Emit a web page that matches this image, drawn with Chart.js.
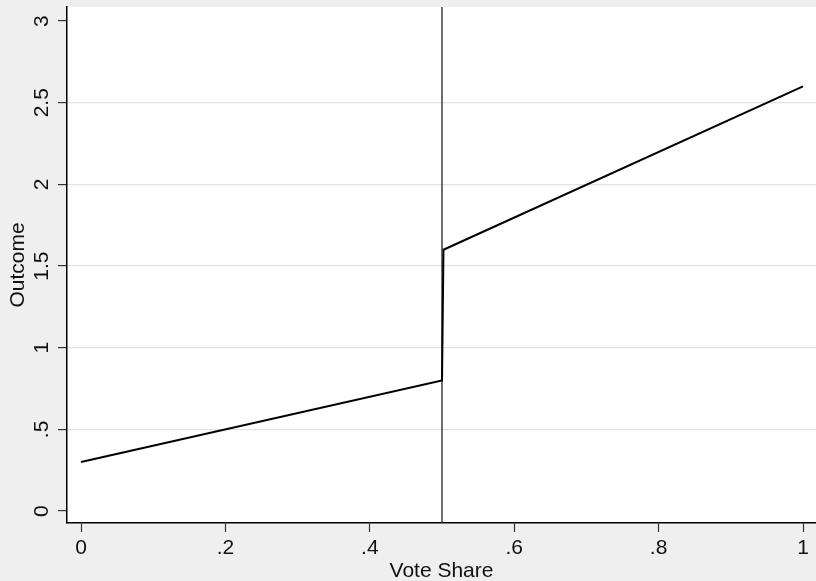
<!DOCTYPE html>
<html>
<head>
<meta charset="utf-8">
<script src="https://cdn.jsdelivr.net/npm/chart.js@4/dist/chart.umd.min.js"></script>
<style>
  body { margin: 0; background: #efefef; }
  #chart-container { width: 816px; height: 581px; }
</style>
</head>
<body>
<div id="chart-container"><canvas id="grafica" width="816" height="581"></canvas></div>
<script>
// valores
const voteShare = [0, 0.5, 0.502, 1];
const outcome = [0.3, 0.8, 1.6, 2.6];
const cutoff = 0.5;

const xTicks = [0, 0.2, 0.4, 0.6, 0.8, 1];
const xTickLabels = ["0", ".2", ".4", ".6", ".8", "1"];
const yTicks = [0, 0.5, 1, 1.5, 2, 2.5, 3];
const yTickLabels = ["0", ".5", "1", "1.5", "2", "2.5", "3"];

const xMin = -0.0194, xMax = 1.018;
const yMin = -0.073, yMax = 3.086;

const fuente = { family: "Liberation Sans, Arial, Helvetica, sans-serif", size: 21 };

const fondoBlanco = {
    id: "fondoBlanco",
    beforeDraw(chart) {
        const { ctx, chartArea } = chart;
        ctx.save();
        ctx.fillStyle = "#ffffff";
        ctx.fillRect(chartArea.left, chartArea.top, chartArea.right - chartArea.left, chartArea.bottom - chartArea.top);
        ctx.restore();
    }
};

const ctx = document.getElementById("grafica").getContext("2d");
new Chart(ctx, {
    type: "scatter",
    data: {
        datasets: [
            {
                label: "Outcome",
                data: voteShare.map((v, i) => ({ x: v, y: outcome[i] })),
                showLine: true,
                borderColor: "#000000",
                borderWidth: 2,
                pointRadius: 0,
                tension: 0,
                order: 0
            },
            {
                label: "cutoff",
                data: [{ x: cutoff, y: yMin }, { x: cutoff, y: yMax }],
                showLine: true,
                borderColor: "#222222",
                borderWidth: 1.3,
                pointRadius: 0,
                order: 1
            }
        ]
    },
    options: {
        responsive: false,
        animation: false,
        layout: { padding: { top: 7, right: 0, left: 0, bottom: 0 } },
        plugins: { legend: { display: false }, tooltip: { enabled: false } },
        scales: {
            x: {
                type: "linear",
                min: xMin,
                max: xMax,
                afterBuildTicks: s => { s.ticks = xTicks.map(v => ({ value: v })); },
                afterFit: s => { s.height = 58; s.paddingLeft = 0; s.paddingRight = 0; },
                grid: {
                    display: true,
                    drawOnChartArea: false,
                    tickLength: 9,
                    tickColor: "#333333",
                    tickWidth: 1.2
                },
                border: { display: true, color: "#000000", width: 1.5 },
                ticks: {
                    color: "#111111",
                    font: fuente,
                    padding: 4,
                    maxRotation: 0,
                    callback: (v) => xTickLabels[xTicks.indexOf(v)]
                },
                title: {
                    display: true,
                    text: "Vote Share",
                    color: "#111111",
                    font: fuente,
                    padding: { top: 0, bottom: -3 }
                }
            },
            y: {
                type: "linear",
                min: yMin,
                max: yMax,
                afterBuildTicks: s => { s.ticks = yTicks.map(v => ({ value: v })); },
                afterFit: s => { s.width = 67; s.paddingTop = 0; s.paddingBottom = 0; },
                grid: {
                    color: (c) => (c.tick && (c.tick.value === 0 || c.tick.value === 3)) ? "rgba(0,0,0,0)" : "#e3e3e3",
                    lineWidth: 1.2,
                    tickLength: 9,
                    tickColor: "#333333",
                    tickWidth: 1.2
                },
                border: { display: true, color: "#000000", width: 1.5 },
                ticks: {
                    color: "#111111",
                    font: fuente,
                    padding: 1,
                    minRotation: 90,
                    maxRotation: 90,
                    crossAlign: "center",
                    callback: (v) => yTickLabels[yTicks.indexOf(v)]
                },
                title: {
                    display: true,
                    text: "Outcome",
                    color: "#111111",
                    font: fuente,
                    padding: { top: 6, bottom: 0 }
                }
            }
        }
    },
    plugins: [fondoBlanco]
});
</script>
</body>
</html>
